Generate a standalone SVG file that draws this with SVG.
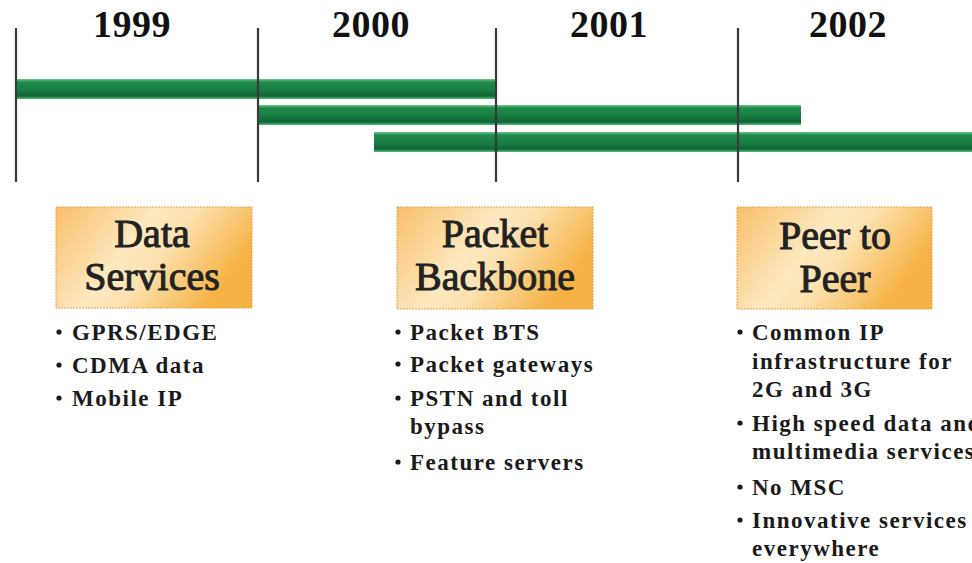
<svg xmlns="http://www.w3.org/2000/svg" width="972" height="563" viewBox="0 0 972 563">
<defs>
<linearGradient id="bar" x1="0" y1="0" x2="0" y2="1">
<stop offset="0" stop-color="#6cc88c"/>
<stop offset="0.15" stop-color="#1f8b4b"/>
<stop offset="0.55" stop-color="#177d41"/>
<stop offset="0.85" stop-color="#0e6534"/>
<stop offset="1" stop-color="#5bbd7e"/>
</linearGradient>
<linearGradient id="box" x1="0" y1="0" x2="1" y2="0.4">
<stop offset="0" stop-color="#f8bf68"/>
<stop offset="0.45" stop-color="#fde8c0"/>
<stop offset="0.62" stop-color="#fce2b0"/>
<stop offset="1" stop-color="#f6b245"/>
</linearGradient>
<style>
.yr{font-family:"Liberation Serif","Times New Roman",serif;font-weight:bold;font-size:38px;letter-spacing:0.5px;fill:#111;text-anchor:middle}
.tick{stroke:#3a3a3a;stroke-width:2.2}
.bar{fill:url(#bar)}
.box{fill:url(#box);stroke:#e2a24a;stroke-width:1;stroke-dasharray:2 1}
.ttl{font-family:"Liberation Serif","Times New Roman",serif;font-size:40px;fill:#222;stroke:#222;stroke-width:1;text-anchor:middle}
.li{font-family:"Liberation Serif","Times New Roman",serif;font-weight:bold;font-size:23px;letter-spacing:1.5px;fill:#1a1a1a}
.dot{fill:#1a1a1a}
</style>
</defs>
<rect width="972" height="563" fill="#ffffff"/>

<g id="years">
<text class="yr" x="132" y="37">1999</text>
<text class="yr" x="371" y="37">2000</text>
<text class="yr" x="609" y="37">2001</text>
<text class="yr" x="848" y="37">2002</text>
</g>

<g id="timeline">
<rect class="bar" x="16" y="79" width="479" height="20"/>
<rect class="bar" x="258" y="105" width="543" height="20"/>
<rect class="bar" x="374" y="132" width="598" height="20"/>
<line class="tick" x1="16" y1="28" x2="16" y2="182"/>
<line class="tick" x1="258" y1="28" x2="258" y2="182"/>
<line class="tick" x1="496" y1="28" x2="496" y2="182"/>
<line class="tick" x1="738" y1="28" x2="738" y2="182"/>
</g>

<g id="connectors"></g>

<g id="data-services">
<rect class="box" x="56" y="207" width="196" height="101"/>
<text class="ttl" x="152" y="247">Data</text>
<text class="ttl" x="152" y="290">Services</text>
<circle class="dot" cx="59" cy="332" r="2.6"/>
<text class="li" x="72" y="340">GPRS/EDGE</text>
<circle class="dot" cx="59" cy="365" r="2.6"/>
<text class="li" x="72" y="373">CDMA data</text>
<circle class="dot" cx="59" cy="398" r="2.6"/>
<text class="li" x="72" y="406">Mobile IP</text>
</g>

<g id="packet-backbone">
<rect class="box" x="397" y="207" width="196" height="102"/>
<text class="ttl" x="495" y="247">Packet</text>
<text class="ttl" x="495" y="290">Backbone</text>
<circle class="dot" cx="398" cy="332" r="2.6"/>
<text class="li" x="410" y="340">Packet BTS</text>
<circle class="dot" cx="398" cy="364" r="2.6"/>
<text class="li" x="410" y="372">Packet gateways</text>
<circle class="dot" cx="398" cy="398" r="2.6"/>
<text class="li" x="410" y="406">PSTN and toll</text>
<text class="li" x="410" y="434">bypass</text>
<circle class="dot" cx="398" cy="462" r="2.6"/>
<text class="li" x="410" y="470">Feature servers</text>
</g>

<g id="peer-to-peer">
<rect class="box" x="737" y="207" width="195" height="102"/>
<text class="ttl" x="835" y="249">Peer to</text>
<text class="ttl" x="835" y="292">Peer</text>
<circle class="dot" cx="740" cy="332" r="2.6"/>
<text class="li" x="752" y="340">Common IP</text>
<text class="li" x="752" y="369">infrastructure for</text>
<text class="li" x="752" y="397">2G and 3G</text>
<circle class="dot" cx="740" cy="423" r="2.6"/>
<text class="li" x="752" y="431">High speed data and</text>
<text class="li" x="752" y="459">multimedia services</text>
<circle class="dot" cx="740" cy="487" r="2.6"/>
<text class="li" x="752" y="495">No MSC</text>
<circle class="dot" cx="740" cy="520" r="2.6"/>
<text class="li" x="752" y="528">Innovative services</text>
<text class="li" x="752" y="556">everywhere</text>
</g>
</svg>
